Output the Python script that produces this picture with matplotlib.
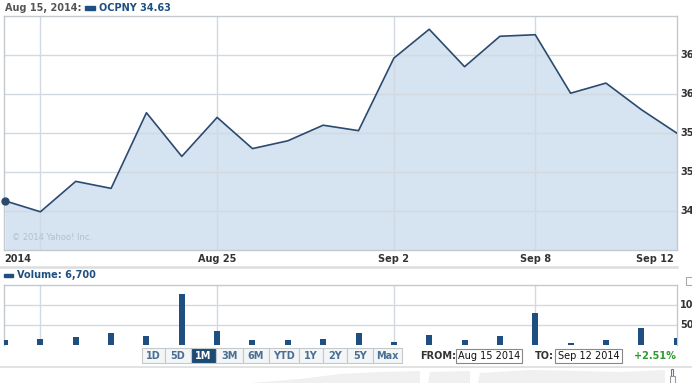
import matplotlib
matplotlib.use("Agg")
import matplotlib.pyplot as plt
from matplotlib.patches import Rectangle, Polygon

# ---------------- data ----------------
dates = ["Aug 15", "Aug 18", "Aug 19", "Aug 20", "Aug 21", "Aug 22", "Aug 25",
         "Aug 26", "Aug 27", "Aug 28", "Aug 29", "Sep 2", "Sep 3", "Sep 4",
         "Sep 5", "Sep 8", "Sep 9", "Sep 10", "Sep 11", "Sep 12"]
close = [34.63, 34.49, 34.88, 34.79, 35.76, 35.20, 35.70, 35.30, 35.40, 35.60,
         35.53, 36.46, 36.83, 36.35, 36.74, 36.76, 36.01, 36.14, 35.80, 35.50]
volume = [12500, 13600, 18600, 29000, 21000, 128000, 34000, 11000, 11000, 13600,
          29000, 6000, 24000, 11000, 21000, 80000, 3500, 11000, 42000, 16000]

price_ticks = [34.5, 35.0, 35.5, 36.0, 36.5]
price_tick_labels = ["34", "35", "35", "36", "36"]
vol_ticks = [50000, 100000]
vol_tick_labels = ["50", "10"]
x_label_dates = ["Aug 25", "Sep 2", "Sep 8"]
grid_dates = ["Aug 18", "Aug 25", "Sep 2", "Sep 8"]
buttons = ["1D", "5D", "1M", "3M", "6M", "YTD", "1Y", "2Y", "5Y", "Max"]
button_edges = [142.3, 165, 190.7, 216, 242.7, 269, 299.3, 323.3, 347.3, 372.7, 401.7]
active_button = "1M"

# ---------------- figure ----------------
W, H = 692, 383
fig = plt.figure(figsize=(W / 100, H / 100), dpi=100)
fig.patch.set_facecolor("white")

def fpos(x0, y0, x1, y1):
    return [x0 / W, 1 - y1 / H, (x1 - x0) / W, (y1 - y0) / H]

LINE = "#2b4a6f"
FILL = "#d5e4f0"
GRID = "#d3d9e0"
SPINE = "#c4c9ce"
BAR = "#1f4f80"
TXT = "#333333"

idx = list(range(len(dates)))
grid_idx = [dates.index(d) for d in grid_dates]
XL = (-0.03, len(dates) - 1 + 0.01)

# main price axes
ax = fig.add_axes(fpos(4, 16, 677, 250))
ax.set_xlim(*XL)
ax.set_ylim(34.0, 37.0)
ax.fill_between(idx, close, 34.0, color=FILL, zorder=1, linewidth=0)
for y in price_ticks:
    ax.axhline(y, color=GRID, lw=1.0, zorder=2)
for g in grid_idx:
    ax.axvline(g, color=GRID, lw=1.0, zorder=2)
ax.plot(idx, close, color=LINE, lw=1.2, zorder=3)
ax.plot([idx[0]], [close[0]], "o", color=LINE, ms=5, zorder=4, clip_on=False)
ax.set_xticks([])
ax.set_yticks([])
for s in ax.spines.values():
    s.set_color(SPINE)
    s.set_linewidth(1.0)
ax.text(0.012, 0.035, "© 2014 Yahoo! Inc.", transform=ax.transAxes,
        fontsize=6, color="#b3c0cc", va="bottom", ha="left")

# volume axes
vx = fig.add_axes(fpos(4, 285.3, 677, 344.5))
vx.set_xlim(*XL)
vx.set_ylim(0, 151000)
for y in vol_ticks:
    vx.axhline(y, color=GRID, lw=1.0, zorder=1)
for g in grid_idx:
    vx.axvline(g, color=GRID, lw=1.0, zorder=1)
vx.bar(idx, volume, width=0.17, color=BAR, zorder=3)
vx.set_xticks([])
vx.set_yticks([])
for k, s in vx.spines.items():
    s.set_color(SPINE)
    s.set_linewidth(1.0)
vx.spines["bottom"].set_visible(False)

# overlay in pixel coordinates
ov = fig.add_axes([0, 0, 1, 1])
ov.set_xlim(0, W)
ov.set_ylim(H, 0)
ov.axis("off")

# header
ov.text(5, 8, "Aug 15, 2014:", fontsize=7, fontweight="bold", color="#555555",
        va="center", ha="left")
ov.add_patch(Rectangle((85, 5.5), 10, 4, color=BAR))
ov.text(99, 8, f"OCPNY {close[0]:.2f}", fontsize=7, fontweight="bold",
        color="#1f4f80", va="center", ha="left")

# price tick labels (right side)
def py(v):
    return 250 - (v - 34.0) / 3.0 * 234
for v, lab in zip(price_ticks, price_tick_labels):
    ov.text(680, py(v), lab, fontsize=7, fontweight="bold", color=TXT,
            va="center", ha="left")

# x labels
def px(i):
    return 4 + (i - XL[0]) / (XL[1] - XL[0]) * 673
ov.text(4, 258.5, "2014", fontsize=7, fontweight="bold", color=TXT,
        va="center", ha="left")
for d in x_label_dates:
    ov.text(px(dates.index(d)), 258.5, d, fontsize=7, fontweight="bold",
            color=TXT, va="center", ha="center")
ov.text(674, 258.5, dates[-1], fontsize=7, fontweight="bold", color=TXT,
        va="center", ha="right")

# separator
ov.plot([0, 677], [267.3, 267.3], color="#dddddd", lw=1.8)

# volume legend
ov.add_patch(Rectangle((4, 273.5), 9, 3.5, color=BAR))
ov.text(17, 275.3, "Volume: 6,700", fontsize=7, fontweight="bold",
        color="#1f4f80", va="center", ha="left")
ov.add_patch(Rectangle((686, 277), 7, 8, fill=False, ec="#aaaaaa", lw=0.8))

# volume tick labels
def vy(v):
    return 344.5 - v / 151000 * 59.2
for v, lab in zip(vol_ticks, vol_tick_labels):
    ov.text(680, vy(v), lab, fontsize=7, fontweight="bold", color=TXT,
            va="center", ha="left")

# faint navigator silhouette (decorative background)
ov.add_patch(Polygon([(250, 383), (300, 379), (340, 374), (380, 372), (420, 371),
                      (420, 383)], closed=True, fc="#f0f0f0", ec="none"))
ov.add_patch(Polygon([(428, 383), (430, 372), (470, 371), (470, 383)],
                     closed=True, fc="#f0f0f0", ec="none"))
ov.add_patch(Polygon([(478, 383), (480, 373), (530, 370), (580, 371), (620, 372),
                      (665, 370), (665, 383)], closed=True, fc="#f0f0f0", ec="none"))

# buttons
for i, b in enumerate(buttons):
    x0, x1 = button_edges[i], button_edges[i + 1]
    active = b == active_button
    ov.add_patch(Rectangle((x0, 348.3), x1 - x0, 15, fc="#1d4a72" if active else "#f3f5f7",
                           ec="#c4c9ce", lw=0.8))
    ov.text((x0 + x1) / 2, 356, b, fontsize=7, fontweight="bold",
            color="white" if active else "#4a6f93", va="center", ha="center")

# from / to
ov.text(420, 356, "FROM:", fontsize=7, fontweight="bold", color=TXT,
        va="center", ha="left")
ov.add_patch(Rectangle((455.7, 349), 66.6, 14.3, fc="white", ec="#888888", lw=0.8))
ov.text(458, 356.3, "Aug 15 2014", fontsize=7, color="#111111", va="center", ha="left")
ov.text(535, 356, "TO:", fontsize=7, fontweight="bold", color=TXT,
        va="center", ha="left")
ov.add_patch(Rectangle((555, 349), 67.3, 14.3, fc="white", ec="#888888", lw=0.8))
ov.text(557.5, 356.3, "Sep 12 2014", fontsize=7, color="#111111", va="center", ha="left")
ov.text(634.3, 356, "+2.51%", fontsize=7, fontweight="bold", color="#2e9a2e",
        va="center", ha="left")

# navigator area
ov.plot([0, 692], [366.7, 366.7], color="#dddddd", lw=1.2)
ov.add_patch(Rectangle((670.5, 369), 2.5, 8, fc="white", ec="#4a7fbf", lw=0.8))
ov.add_patch(Rectangle((669.5, 376), 5, 7, fc="white", ec="#999999", lw=0.8))

fig.savefig("out.png", dpi=100, facecolor="white")
